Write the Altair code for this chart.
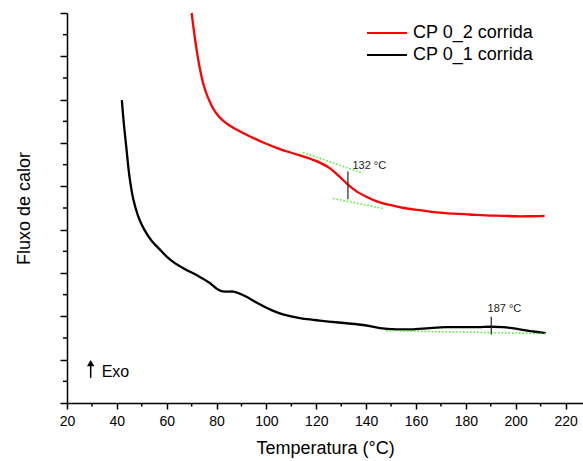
import altair as alt
import pandas as pd

FONT = "Liberation Sans"

# ---- data ----
series_names = ["CP 0_2 corrida", "CP 0_1 corrida"]
series_colors = ["#ff0000", "#000000"]

temp_run2 = [70.0, 71.0, 72.0, 73.2, 74.6, 76.6, 78.6, 80.5, 82.5, 85.0, 88.0, 92.0, 98.0,
             105.4, 112.0, 118.7, 122.0, 125.4, 129.0, 132.7, 136.0, 140.1, 144.0,
             149.5, 155.0, 161.5, 168.2, 175.0, 181.5, 188.0, 194.9, 200.0, 205.0, 211.6]
flux_run2 = [9.0, 8.55, 8.15, 7.75, 7.38, 7.04, 6.80, 6.64, 6.52, 6.41, 6.31, 6.19, 6.03,
             5.86, 5.74, 5.61, 5.53, 5.42, 5.24, 5.04, 4.89, 4.76, 4.66,
             4.57, 4.50, 4.45, 4.40, 4.37, 4.35, 4.33, 4.32, 4.31, 4.31, 4.32]

temp_run1 = [42.0, 42.8, 43.9, 45.0, 46.6, 48.5, 51.0, 54.0, 57.3, 60.0, 63.0, 67.0,
             70.0, 73.3, 77.3, 80.0, 82.0, 84.0, 86.7, 89.0, 92.0, 96.0, 100.0, 103.0, 107.0,
             113.4, 118.7, 125.0, 132.1, 138.8, 145.5, 152.1, 158.0, 165.5, 172.0,
             178.8, 185.0, 190.0, 194.9, 201.6, 206.0, 212.0]
flux_run1 = [6.99, 6.45, 5.84, 5.25, 4.70, 4.32, 4.00, 3.74, 3.54, 3.38, 3.24, 3.10,
             3.01, 2.91, 2.77, 2.64, 2.58, 2.57, 2.57, 2.53, 2.45, 2.32, 2.20, 2.12, 2.04,
             1.96, 1.92, 1.88, 1.84, 1.80, 1.73, 1.70, 1.70, 1.73, 1.75,
             1.75, 1.75, 1.76, 1.75, 1.70, 1.66, 1.61]

x_major = [20, 40, 60, 80, 100, 120, 140, 160, 180, 200, 220]
x_minor = [30, 50, 70, 90, 110, 130, 150, 170, 190, 210]
y_major = [0, 1, 2, 3, 4, 5, 6, 7, 8, 9]
y_minor = [0.5, 1.5, 2.5, 3.5, 4.5, 5.5, 6.5, 7.5, 8.5]

# green dotted tangent lines
tan_x1 = [114.7, 126.7, 148.0]
tan_y1 = [5.78, 4.72, 1.67]
tan_x2 = [138.8, 146.8, 212.0]
tan_y2 = [5.30, 4.49, 1.60]

# transition markers and labels
mark_x = [132.7, 190.2]
mark_y1 = [4.70, 1.58]
mark_y2 = [5.34, 1.99]
mark_text = ["132 °C", "187 °C"]
mark_text_x = [134.5, 188.7]
mark_text_y = [5.39, 2.09]

# Exo arrow
exo_x = [29.5]
exo_y1 = [0.58]
exo_y2 = [0.86]
exo_head_y = [0.92]
exo_text_x = [33.9]
exo_text_y = [0.607]
exo_text = ["Exo"]

# ---- tables ----
curves = pd.concat([
    pd.DataFrame({"T": temp_run2, "F": flux_run2, "s": series_names[0], "o": range(len(temp_run2))}),
    pd.DataFrame({"T": temp_run1, "F": flux_run1, "s": series_names[1], "o": range(len(temp_run1))}),
])
tangents = pd.DataFrame({"x1": tan_x1, "y1": tan_y1, "x2": tan_x2, "y2": tan_y2})
markers = pd.DataFrame({"x": mark_x, "y1": mark_y1, "y2": mark_y2,
                        "t": mark_text, "tx": mark_text_x, "ty": mark_text_y})
exo = pd.DataFrame({"x": exo_x, "y1": exo_y1, "y2": exo_y2, "hy": exo_head_y,
                    "tx": exo_text_x, "ty": exo_text_y, "t": exo_text})
xminor_df = pd.DataFrame({"v": x_minor})
yminor_df = pd.DataFrame({"v": y_minor})

xscale = alt.Scale(domain=[20, 227], nice=False, zero=False)
yscale = alt.Scale(domain=[0, 9], nice=False, zero=False)

xaxis = alt.Axis(values=x_major, title="Temperatura (°C)", grid=False,
                 tickSize=6, tickWidth=1.5, tickColor="black",
                 domainColor="black", domainWidth=1.5,
                 labelFont=FONT, labelFontSize=14, labelColor="black", labelPadding=5,
                 labelFlush=False,
                 titleFont=FONT, titleFontSize=18, titleFontWeight="normal",
                 titleColor="black", titlePadding=11)
yaxis = alt.Axis(values=y_major, title="Fluxo de calor", grid=False, labels=False,
                 tickSize=7, tickWidth=1.5, tickColor="black",
                 domainColor="black", domainWidth=1.5,
                 titleFont=FONT, titleFontSize=18, titleFontWeight="normal",
                 titleColor="black", titlePadding=26)

lines = alt.Chart(curves).mark_line(strokeWidth=2.3, interpolate="catmull-rom").encode(
    x=alt.X("T:Q", scale=xscale, axis=xaxis),
    y=alt.Y("F:Q", scale=yscale, axis=yaxis),
    order="o:Q",
    color=alt.Color("s:N", scale=alt.Scale(domain=series_names, range=series_colors),
                    sort=series_names,
                    legend=alt.Legend(title=None, orient="none", legendX=311, legendY=11,
                                      symbolType="M-4,0H4", symbolSize=100,
                                      symbolStrokeWidth=2, labelFont=FONT,
                                      labelFontSize=18, labelColor="black",
                                      labelOffset=17, rowPadding=4, padding=0)),
)

tan = alt.Chart(tangents).mark_rule(color="#44ee22", strokeWidth=1.5, strokeDash=[1.5, 2]).encode(
    x="x1:Q", y="y1:Q", x2="x2:Q", y2="y2:Q")

mrule = alt.Chart(markers).mark_rule(color="#222222", strokeWidth=1.2).encode(
    x="x:Q", y="y1:Q", y2="y2:Q")
mtext = alt.Chart(markers).mark_text(font=FONT, fontSize=11, align="left",
                                     baseline="alphabetic", color="#222222").encode(
    x="tx:Q", y="ty:Q", text="t:N")

xminor = alt.Chart(xminor_df).mark_rule(color="black", strokeWidth=1.5).encode(
    x="v:Q", y=alt.value(390), y2=alt.value(393.5))
yminor = alt.Chart(yminor_df).mark_rule(color="black", strokeWidth=1.5).encode(
    y="v:Q", x=alt.value(0), x2=alt.value(-4))

exo_shaft = alt.Chart(exo).mark_rule(color="black", strokeWidth=1.5).encode(
    x="x:Q", y="y1:Q", y2="y2:Q")
exo_head = alt.Chart(exo).mark_point(shape="triangle-up", filled=True, size=55,
                                     color="black", opacity=1).encode(
    x="x:Q", y="hy:Q")
exo_label = alt.Chart(exo).mark_text(font=FONT, fontSize=16, align="left",
                                     baseline="alphabetic", color="black").encode(
    x="tx:Q", y="ty:Q", text="t:N")

chart = alt.layer(lines, tan, mrule, mtext, xminor, yminor, exo_shaft, exo_head, exo_label).properties(
    width=516, height=390,
    autosize=alt.AutoSizeParams(type="none"),
    padding={"left": 67, "top": 13, "right": 0, "bottom": 58},
    background="white",
).configure_view(stroke=None)

chart.save("out.html", embed_options={"renderer": "svg", "actions": False})
